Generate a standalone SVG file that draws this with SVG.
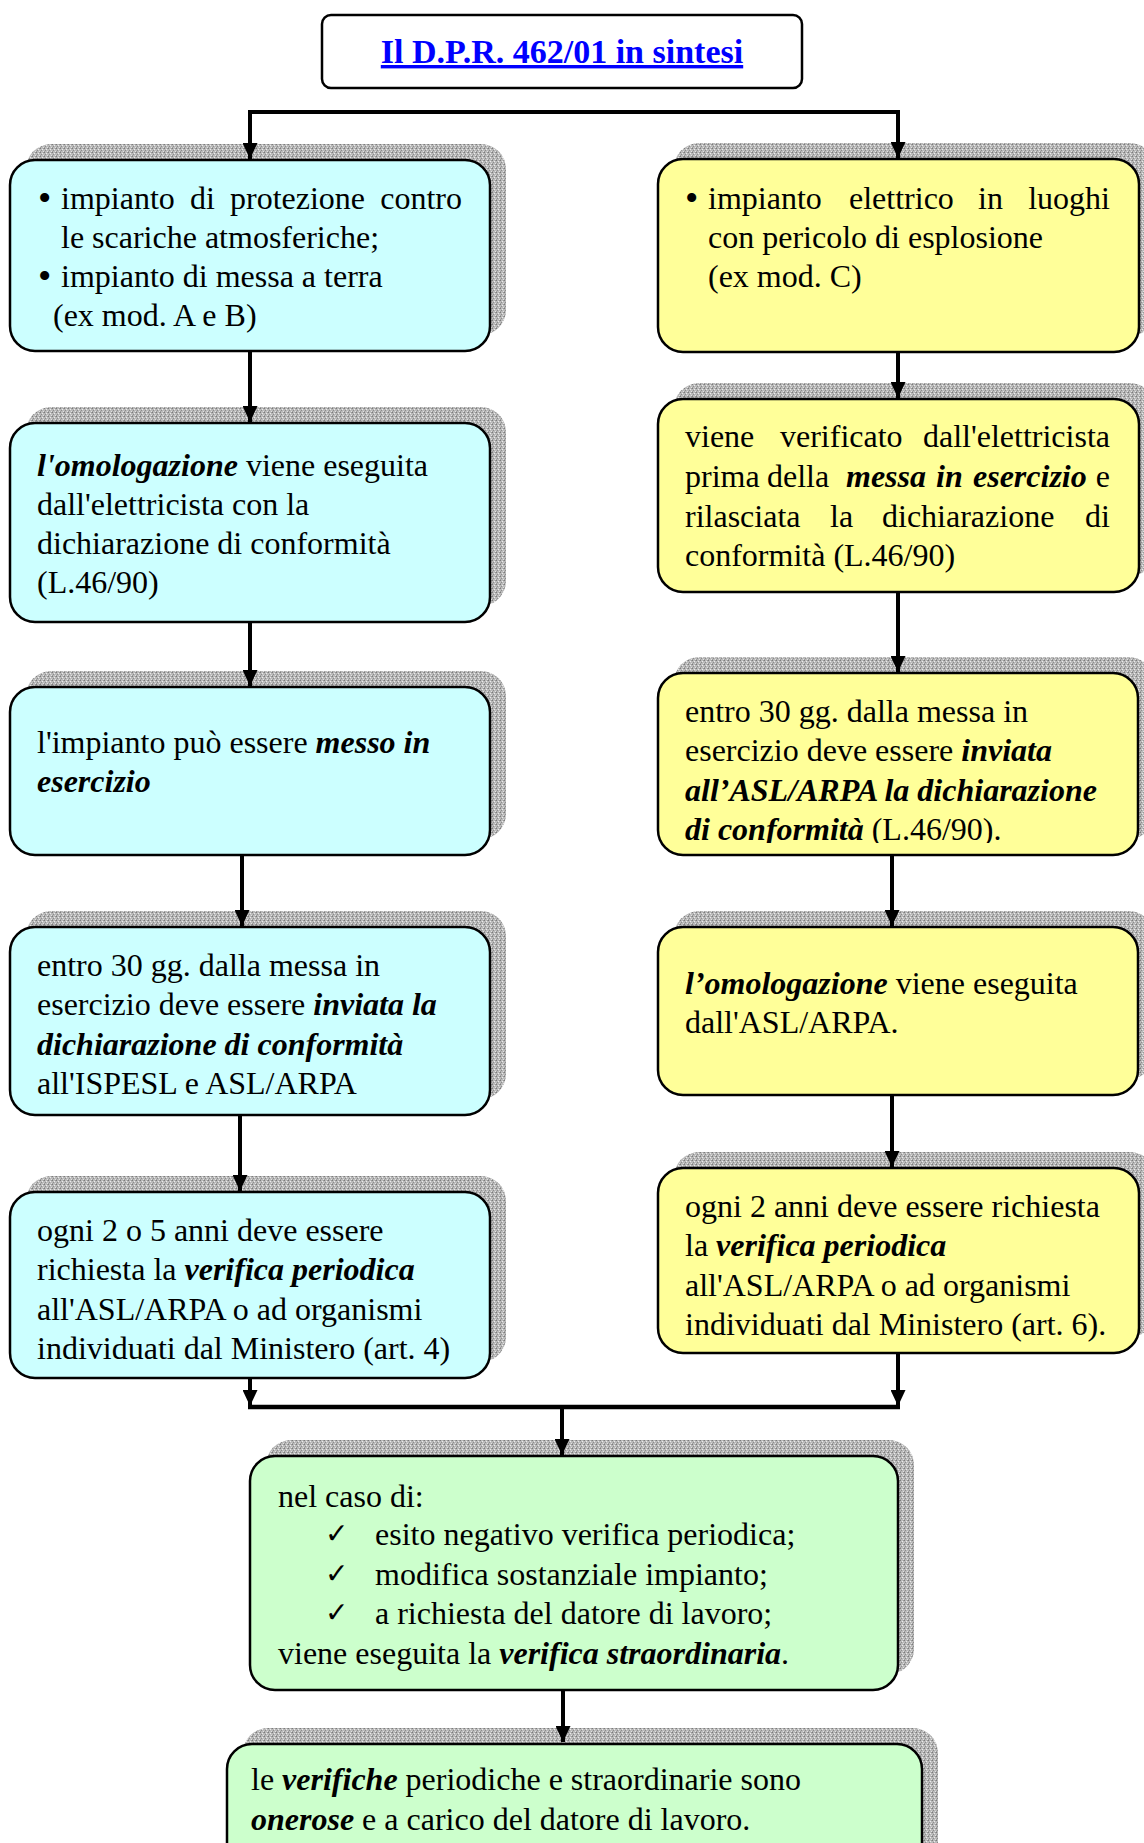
<svg xmlns="http://www.w3.org/2000/svg" width="1144" height="1843" viewBox="0 0 1144 1843">
<style>
.t{font-family:"Liberation Serif","Times New Roman",serif;font-size:32px;fill:#000}
.bi{font-weight:bold;font-style:italic}
.box{stroke:#000;stroke-width:2.5}
.cy{fill:#ccffff}.ye{fill:#ffff99}.gr{fill:#ccffcc}
.sh{fill:url(#tex)}
.con{stroke:#000;stroke-width:4;fill:none}
.title{font-family:"Liberation Serif","Times New Roman",serif;font-size:34px;font-weight:bold;fill:#0000ff;text-decoration:underline}
.chk{font-family:"DejaVu Sans",sans-serif;font-size:28px}
.bul{font-family:"Liberation Serif","Times New Roman",serif;font-size:38px}
</style>
<defs>
<pattern id="tex" width="4" height="4" patternUnits="userSpaceOnUse">
<rect width="4" height="4" fill="#bababa"/>
<rect x="0" y="0" width="1" height="1" fill="#7c7c7c"/>
<rect x="2" y="1" width="1" height="1" fill="#ececec"/>
<rect x="1" y="2" width="1" height="1" fill="#8c8c8c"/>
<rect x="3" y="3" width="1" height="1" fill="#e2e2e2"/>
<rect x="3" y="0" width="1" height="1" fill="#9a9a9a"/>
<rect x="0" y="3" width="1" height="1" fill="#a0a0a0"/>
</pattern>
<marker id="ah" markerUnits="userSpaceOnUse" markerWidth="17" markerHeight="15" refX="16" refY="7.5" orient="auto">
<path d="M0,0 L16,7.5 L0,15 z" fill="#000"/>
</marker>
<clipPath id="clipR3"><rect x="650" y="660" width="494" height="183"/></clipPath>
</defs>
<rect width="1144" height="1843" fill="#fff"/>

<g id="title">
<rect x="322" y="15" width="480" height="73" rx="9" fill="#fff" stroke="#000" stroke-width="2.5"/>
<text class="title" x="562" y="63" text-anchor="middle">Il D.P.R. 462/01 in sintesi</text>
</g>

<g id="L1">
<rect class="sh" x="26" y="144" width="480" height="191" rx="25"/>
<rect class="box cy" x="10" y="160" width="480" height="191" rx="25"/>
<text class="bul" x="38" y="211">•</text>
<text class="t" y="209"><tspan x="61">impianto</tspan><tspan x="190">di</tspan><tspan x="230">protezione</tspan></text>
<text class="t" x="462" y="209" text-anchor="end">contro</text>
<text class="t" x="61" y="248">le scariche atmosferiche;</text>
<text class="bul" x="38" y="289">•</text>
<text class="t" x="61" y="287">impianto di messa a terra</text>
<text class="t" x="53" y="326">(ex mod. A e B)</text>
</g>

<g id="L2">
<rect class="sh" x="26" y="407" width="480" height="199" rx="25"/>
<rect class="box cy" x="10" y="423" width="480" height="199" rx="25"/>
<text class="t" x="37" y="476"><tspan class="bi">l'omologazione</tspan> viene eseguita</text>
<text class="t" x="37" y="515">dall'elettricista con la</text>
<text class="t" x="37" y="554">dichiarazione di conformità</text>
<text class="t" x="37" y="593">(L.46/90)</text>
</g>

<g id="L3">
<rect class="sh" x="26" y="671" width="480" height="168" rx="25"/>
<rect class="box cy" x="10" y="687" width="480" height="168" rx="25"/>
<text class="t" x="37" y="753">l'impianto può essere <tspan class="bi">messo in</tspan></text>
<text class="t bi" x="37" y="792">esercizio</text>
</g>

<g id="L4">
<rect class="sh" x="26" y="911" width="480" height="188" rx="25"/>
<rect class="box cy" x="10" y="927" width="480" height="188" rx="25"/>
<text class="t" x="37" y="976">entro 30 gg. dalla messa in</text>
<text class="t" x="37" y="1015">esercizio deve essere <tspan class="bi">inviata la</tspan></text>
<text class="t bi" x="37" y="1055">dichiarazione di conformità</text>
<text class="t" x="37" y="1094">all'ISPESL e ASL/ARPA</text>
</g>

<g id="L5">
<rect class="sh" x="26" y="1176" width="480" height="186" rx="25"/>
<rect class="box cy" x="10" y="1192" width="480" height="186" rx="25"/>
<text class="t" x="37" y="1241">ogni 2 o 5 anni deve essere</text>
<text class="t" x="37" y="1280">richiesta la <tspan class="bi">verifica periodica</tspan></text>
<text class="t" x="37" y="1320">all'ASL/ARPA o ad organismi</text>
<text class="t" x="37" y="1359">individuati dal Ministero (art. 4)</text>
</g>

<g id="R1">
<rect class="sh" x="674" y="143" width="481" height="193" rx="25"/>
<rect class="box ye" x="658" y="159" width="481" height="193" rx="25"/>
<text class="bul" x="685" y="211">•</text>
<text class="t" y="209"><tspan x="708">impianto</tspan><tspan x="849">elettrico</tspan><tspan x="978">in</tspan></text>
<text class="t" x="1110" y="209" text-anchor="end">luoghi</text>
<text class="t" x="708" y="248">con pericolo di esplosione</text>
<text class="t" x="708" y="287">(ex mod. C)</text>
</g>

<g id="R2">
<rect class="sh" x="674" y="383" width="481" height="193" rx="25"/>
<rect class="box ye" x="658" y="399" width="481" height="193" rx="25"/>
<text class="t" y="447"><tspan x="685">viene</tspan><tspan x="780">verificato</tspan></text>
<text class="t" x="1110" y="447" text-anchor="end">dall'elettricista</text>
<text class="t" y="487"><tspan x="685">prima</tspan><tspan x="767">della</tspan><tspan class="bi" x="846">messa</tspan><tspan class="bi" x="936">in</tspan><tspan class="bi" x="973">esercizio</tspan></text>
<text class="t" x="1110" y="487" text-anchor="end">e</text>
<text class="t" y="527"><tspan x="685">rilasciata</tspan><tspan x="830">la</tspan><tspan x="882">dichiarazione</tspan></text>
<text class="t" x="1110" y="527" text-anchor="end">di</text>
<text class="t" x="685" y="566">conformità (L.46/90)</text>
</g>

<g id="R3">
<rect class="sh" x="674" y="657" width="480" height="182" rx="25"/>
<rect class="box ye" x="658" y="673" width="480" height="182" rx="25"/>
<g clip-path="url(#clipR3)">
<text class="t" x="685" y="722">entro 30 gg. dalla messa in</text>
<text class="t" x="685" y="761">esercizio deve essere <tspan class="bi">inviata</tspan></text>
<text class="t bi" x="685" y="801">all’ASL/ARPA la dichiarazione</text>
<text class="t" x="685" y="840"><tspan class="bi">di conformità</tspan> (L.46/90).</text>
</g>
</g>

<g id="R4">
<rect class="sh" x="674" y="911" width="480" height="168" rx="25"/>
<rect class="box ye" x="658" y="927" width="480" height="168" rx="25"/>
<text class="t" x="685" y="994"><tspan class="bi">l’omologazione</tspan> viene eseguita</text>
<text class="t" x="685" y="1033">dall'ASL/ARPA.</text>
</g>

<g id="R5">
<rect class="sh" x="674" y="1152" width="481" height="185" rx="25"/>
<rect class="box ye" x="658" y="1168" width="481" height="185" rx="25"/>
<text class="t" x="685" y="1217">ogni 2 anni deve essere richiesta</text>
<text class="t" x="685" y="1256">la <tspan class="bi">verifica periodica</tspan></text>
<text class="t" x="685" y="1296">all'ASL/ARPA o ad organismi</text>
<text class="t" x="685" y="1335">individuati dal Ministero (art. 6).</text>
</g>

<g id="G1">
<rect class="sh" x="266" y="1440" width="648" height="234" rx="25"/>
<rect class="box gr" x="250" y="1456" width="648" height="234" rx="25"/>
<text class="t" x="278" y="1507">nel caso di:</text>
<text class="chk" x="325" y="1543">✓</text>
<text class="t" x="375" y="1545">esito negativo verifica periodica;</text>
<text class="chk" x="325" y="1583">✓</text>
<text class="t" x="375" y="1585">modifica sostanziale impianto;</text>
<text class="chk" x="325" y="1622">✓</text>
<text class="t" x="375" y="1624">a richiesta del datore di lavoro;</text>
<text class="t" x="278" y="1664">viene eseguita la <tspan class="bi">verifica straordinaria</tspan>.</text>
</g>

<g id="G2">
<rect class="sh" x="243" y="1728" width="695" height="200" rx="25"/>
<rect class="box gr" x="227" y="1744" width="695" height="200" rx="25"/>
<text class="t" x="251" y="1790">le <tspan class="bi">verifiche</tspan> periodiche e straordinarie sono</text>
<text class="t" x="251" y="1830"><tspan class="bi">onerose</tspan> e a carico del datore di lavoro.</text>
</g>

<g id="connectors">
<path class="con" d="M248,112 H900"/>
<path class="con" d="M250,112 V159" marker-end="url(#ah)"/>
<path class="con" d="M898,112 V158" marker-end="url(#ah)"/>
<path class="con" d="M250,351 V422" marker-end="url(#ah)"/>
<path class="con" d="M250,622 V686" marker-end="url(#ah)"/>
<path class="con" d="M242,855 V926" marker-end="url(#ah)"/>
<path class="con" d="M240,1115 V1191" marker-end="url(#ah)"/>
<path class="con" d="M250,1378 V1406" marker-end="url(#ah)"/>
<path class="con" d="M898,352 V398" marker-end="url(#ah)"/>
<path class="con" d="M898,592 V672" marker-end="url(#ah)"/>
<path class="con" d="M892,855 V926" marker-end="url(#ah)"/>
<path class="con" d="M892,1095 V1167" marker-end="url(#ah)"/>
<path class="con" d="M898,1353 V1406" marker-end="url(#ah)"/>
<path class="con" style="stroke-width:4.5" d="M248,1407 H900"/>
<path class="con" d="M562,1407 V1455" marker-end="url(#ah)"/>
<path class="con" d="M563,1690 V1742" marker-end="url(#ah)"/>
</g>
</svg>
